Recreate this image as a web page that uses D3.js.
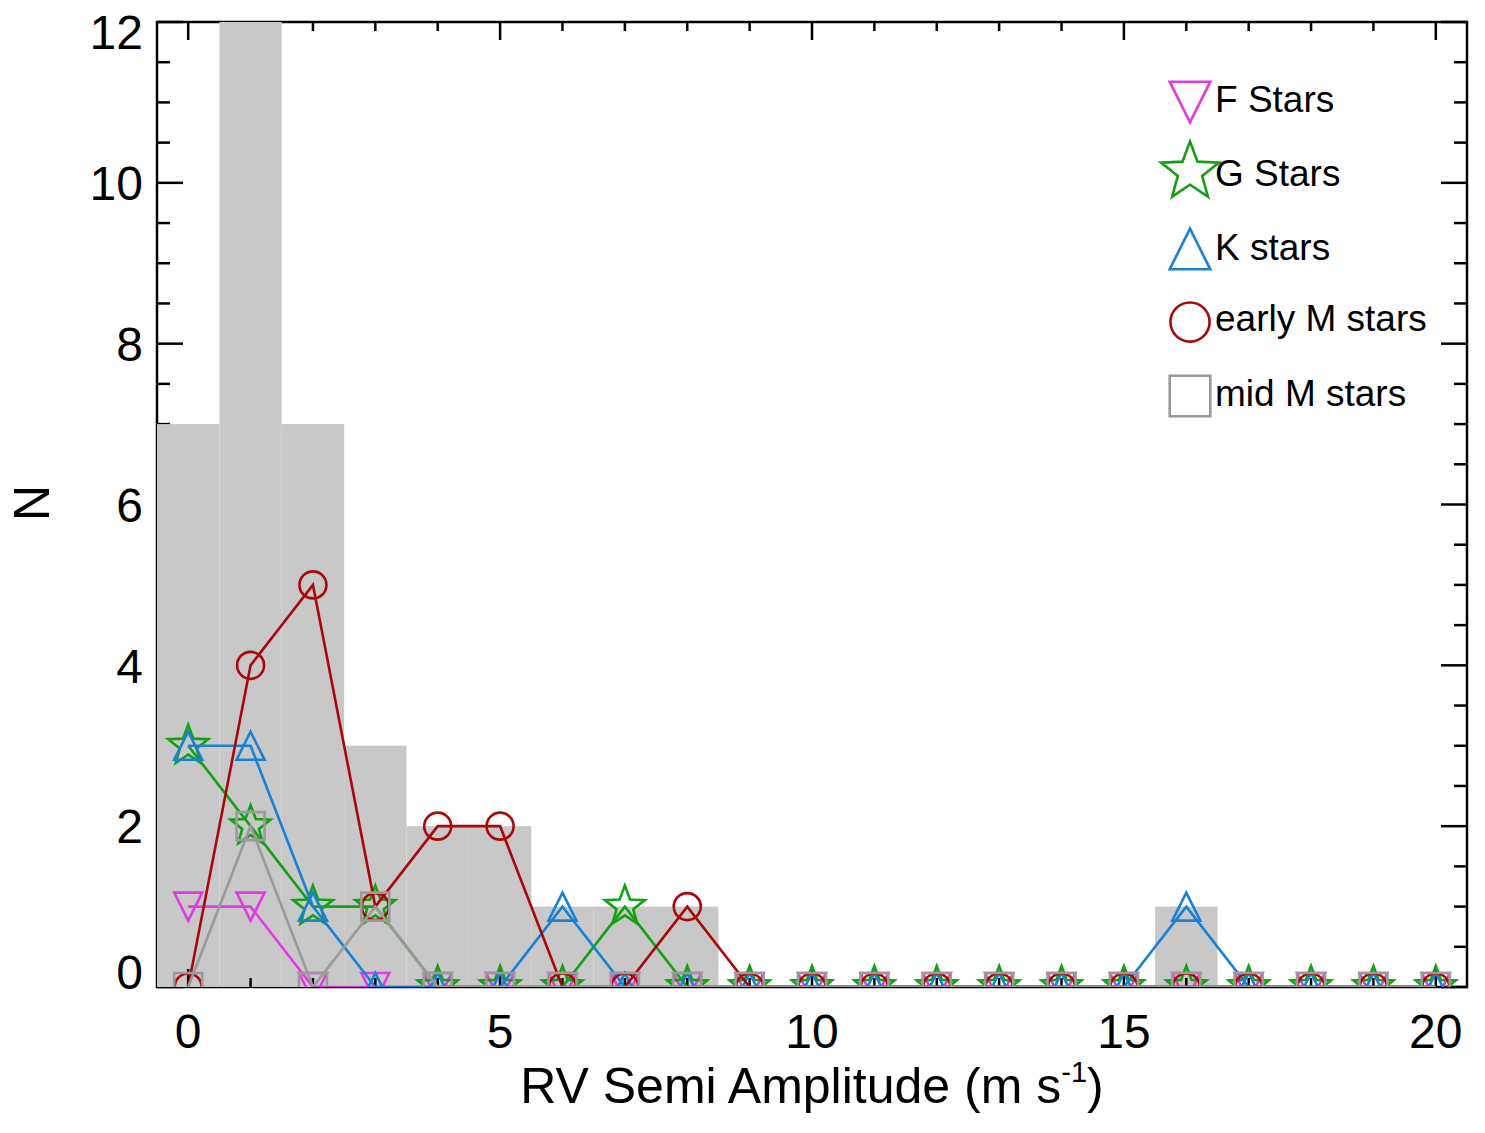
<!DOCTYPE html>
<html>
<head>
<meta charset="utf-8">
<script src="https://cdn.jsdelivr.net/npm/d3@7"></script>
<style>
  body { margin: 0; background: #fff; }
  svg { display: block; font-family: "Liberation Sans", Arial, Helvetica, sans-serif; }
</style>
</head>
<body>
<svg id="chart" width="1485" height="1133"></svg>
<script>
// RV semi amplitude bins (m/s)
const rvBins = [0,1,2,3,4,5,6,7,8,9,10,11,12,13,14,15,16,17,18,19,20];
const allStars = [7,12,7,3,2,2,1,1,1,0,0,0,0,0,0,0,1,0,0,0,0];
const fStars   = [1,1,0,0,0,0,0,0,0,0,0,0,0,0,0,0,0,0,0,0,0];
const gStars   = [3,2,1,1,0,0,0,1,0,0,0,0,0,0,0,0,0,0,0,0,0];
const kStars   = [3,3,1,0,0,0,1,0,0,0,0,0,0,0,0,0,1,0,0,0,0];
const earlyM   = [0,4,5,1,2,2,0,0,1,0,0,0,0,0,0,0,0,0,0,0,0];
const midM     = [0,2,0,1,0,0,0,0,0,0,0,0,0,0,0,0,0,0,0,0,0];

const xTicks = [0,5,10,15,20];
const yTicks = [0,2,4,6,8,10,12];

const series = [
    {name:"F Stars",       values:fStars, color:"#e23ae2", symbol:"tridown"},
    {name:"G Stars",       values:gStars, color:"#14a014", symbol:"star"},
    {name:"K stars",       values:kStars, color:"#1a80d6", symbol:"triup"},
    {name:"early M stars", values:earlyM, color:"#aa0808", symbol:"circle"},
    {name:"mid M stars",   values:midM,   color:"#9a9a9a", symbol:"square"},
];

const plotLeft = 157, plotRight = 1467, plotTop = 22, plotBottom = 987;
const axisWidth = 2.5;
const lineWidth = 2.6;
const fontSize = 48;

const svg = d3.select("#chart");
const x = d3.scaleLinear().domain([-0.5,20.5]).range([plotLeft,plotRight]);
const y = d3.scaleLinear().domain([0,12]).range([plotBottom,plotTop]);

const symbolPath = (type,s) =>
{
    const h = 14*s;
    if (type==="triup") return `M0,${-h}L${h},${h}L${-h},${h}Z`;
    if (type==="tridown") return `M0,${h}L${h},${-h}L${-h},${-h}Z`;
    if (type==="square") return `M${-h},${-h}H${h}V${h}H${-h}Z`;
    if (type==="circle")
    {
        const r = 13.5*s;
        return `M${r},0A${r},${r} 0 1,1 ${-r},0A${r},${r} 0 1,1 ${r},0Z`;
    }
    // five point star
    const R = 21*s, r = R*0.42;
    const pts = d3.range(10).map(i =>
    {
        const a = -Math.PI/2 + i*Math.PI/5;
        const rad = i%2===0 ? R : r;
        return [rad*Math.cos(a), rad*Math.sin(a)];
    });
    return "M" + pts.map(p => p.join(",")).join("L") + "Z";
}

svg.append("defs").append("clipPath").attr("id","plot-clip")
    .append("rect")
    .attr("x",plotLeft).attr("y",plotTop)
    .attr("width",plotRight-plotLeft).attr("height",plotBottom-plotTop);

// frame + ticks
const frame = svg.append("g").attr("class","frame");
frame.append("rect")
    .attr("x",plotLeft).attr("y",plotTop)
    .attr("width",plotRight-plotLeft).attr("height",plotBottom-plotTop)
    .attr("fill","none").attr("stroke","black").attr("stroke-width",axisWidth);

const xMinor = d3.range(0,21,1);
const yMinor = d3.range(0,12.01,0.5);

const drawXTicks = (g,yPos,dir) =>
{
    xMinor.forEach(v =>
    {
        const len = v%5===0 ? 18 : 9;
        g.append("line")
            .attr("x1",x(v)).attr("x2",x(v))
            .attr("y1",yPos).attr("y2",yPos+dir*len)
            .attr("stroke","black").attr("stroke-width",axisWidth);
    });
}

drawXTicks(frame,plotTop,1);
yMinor.forEach(v =>
{
    const len = v%2===0 ? 26 : 13;
    frame.append("line")
        .attr("x1",plotLeft).attr("x2",plotLeft+len)
        .attr("y1",y(v)).attr("y2",y(v))
        .attr("stroke","black").attr("stroke-width",axisWidth);
    frame.append("line")
        .attr("x1",plotRight).attr("x2",plotRight-len)
        .attr("y1",y(v)).attr("y2",y(v))
        .attr("stroke","black").attr("stroke-width",axisWidth);
});

// histogram of all stars
svg.append("g").attr("class","bars")
    .selectAll("rect")
    .data(rvBins.map((b,i) => ({bin:b, n:allStars[i]})).filter(d => d.n>0))
    .join("rect")
    .attr("x",d => x(d.bin-0.5))
    .attr("width",d => x(d.bin+0.5)-x(d.bin-0.5))
    .attr("y",d => y(d.n))
    .attr("height",d => y(0)-y(d.n))
    .attr("fill","#c8c8c8");

const bottomTicks = svg.append("g");
drawXTicks(bottomTicks,plotBottom,-1);

// series lines and symbols
const line = d3.line().x(d => x(d[0])).y(d => y(d[1]));
const plotG = svg.append("g").attr("clip-path","url(#plot-clip)");
series.forEach(s =>
{
    const pts = rvBins.map((b,i) => [b,s.values[i]]);
    const g = plotG.append("g");
    g.append("path")
        .attr("d",line(pts))
        .attr("fill","none")
        .attr("stroke",s.color)
        .attr("stroke-width",lineWidth)
        .attr("stroke-linejoin","miter");
    g.selectAll("path.sym")
        .data(pts)
        .join("path")
        .attr("class","sym")
        .attr("d",symbolPath(s.symbol,1))
        .attr("transform",d => `translate(${x(d[0])},${y(d[1])})`)
        .attr("fill","none")
        .attr("stroke",s.color)
        .attr("stroke-width",lineWidth);
});

// tick labels
svg.append("g").selectAll("text")
    .data(xTicks)
    .join("text")
    .attr("x",d => x(d))
    .attr("y",1048)
    .attr("text-anchor","middle")
    .attr("font-size",fontSize)
    .text(d => d);

svg.append("g").selectAll("text")
    .data(yTicks)
    .join("text")
    .attr("x",143)
    .attr("y",d => y(d) + (d===0 ? -15 : d===12 ? 10 : 0))
    .attr("dy","0.36em")
    .attr("text-anchor","end")
    .attr("font-size",fontSize)
    .text(d => d);

// axis titles
const xTitle = svg.append("text")
    .attr("x",812)
    .attr("y",1103)
    .attr("text-anchor","middle")
    .attr("font-size",50);
xTitle.append("tspan").text("RV Semi Amplitude (m s");
xTitle.append("tspan").attr("font-size",29).attr("dy",-21).text("-1");
xTitle.append("tspan").attr("dy",21).text(")");

svg.append("text")
    .attr("transform","translate(49,503) rotate(-90)")
    .attr("text-anchor","middle")
    .attr("font-size",50)
    .text("N");

// legend
const legendY = [102,172,249,322,396];
const legendTextY = [112,186,260,331,406];
const legend = svg.append("g").attr("class","legend");
series.forEach((s,i) =>
{
    legend.append("path")
        .attr("d",symbolPath(s.symbol,1.45))
        .attr("transform",`translate(1190,${legendY[i]})`)
        .attr("fill","none")
        .attr("stroke",s.color)
        .attr("stroke-width",lineWidth);
    legend.append("text")
        .attr("x",1215)
        .attr("y",legendTextY[i])
        .attr("font-size",37)
        .text(s.name);
});
</script>
</body>
</html>
